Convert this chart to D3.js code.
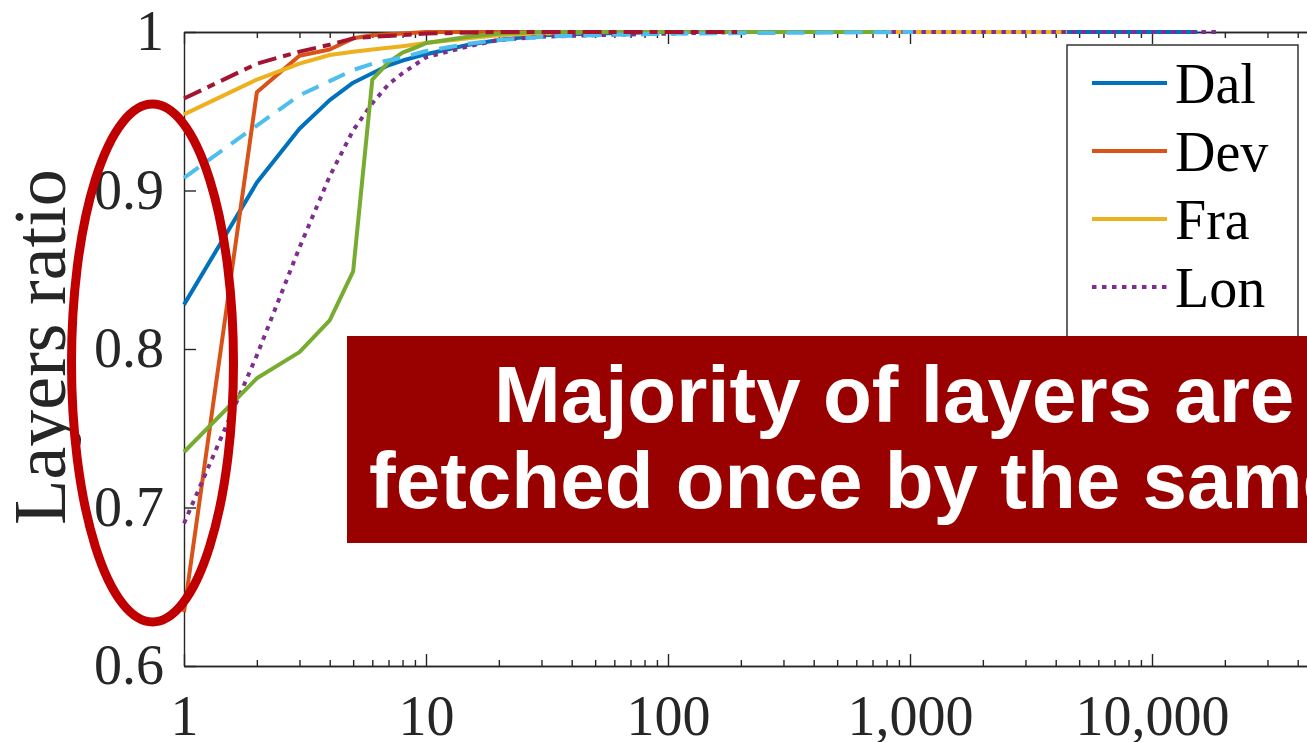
<!DOCTYPE html>
<html>
<head>
<meta charset="utf-8">
<script src="https://cdn.jsdelivr.net/npm/d3@7"></script>
<style>
  body { margin: 0; background: #fff; }
  svg { display: block; }
</style>
</head>
<body>
<div id="chart"></div>
<script>
// fetch-count CDF per site (x = times a layer is fetched by the same client)
const seriesNames = ['Dal', 'Dev', 'Fra', 'Lon', 'Pre', 'Sta', 'Syd'];

const dalCounts = [1, 2, 3, 4, 5, 6, 7, 8, 10, 15, 20, 30, 50, 100, 15400];
const dalRatio  = [0.828, 0.905, 0.939, 0.957, 0.968, 0.974, 0.979, 0.982, 0.986, 0.992, 0.995, 0.998, 0.999, 1, 1];

const devCounts = [1, 2, 3, 4, 5, 6, 8, 10, 150];
const devRatio  = [0.634, 0.962, 0.985, 0.989, 0.996, 0.998, 0.999, 1, 1];

const fraCounts = [1, 2, 3, 4, 5, 6, 7, 8, 10, 15, 20, 30, 50, 4450];
const fraRatio  = [0.948, 0.970, 0.980, 0.9855, 0.9876, 0.989, 0.990, 0.991, 0.993, 0.996, 0.998, 0.999, 1, 1];

const lonCounts = [1, 2, 3, 4, 5, 6, 7, 8, 10, 15, 20, 30, 50, 100, 200, 18700];
const lonRatio  = [0.690, 0.796, 0.864, 0.909, 0.938, 0.955, 0.967, 0.974, 0.984, 0.991, 0.995, 0.997, 0.998, 0.999, 1, 1];

const preCounts = [1, 2, 3, 4, 5, 6, 7, 8, 9, 10, 15, 20, 30, 770];
const preRatio  = [0.735, 0.7815, 0.798, 0.818, 0.849, 0.970, 0.981, 0.987, 0.990, 0.993, 0.997, 0.999, 1, 1];

const staCounts = [1, 2, 3, 4, 5, 6, 8, 10, 15, 20, 25, 30, 50, 100, 1030];
const staRatio  = [0.908, 0.941, 0.960, 0.969, 0.976, 0.980, 0.984, 0.988, 0.9926, 0.995, 0.9958, 0.997, 0.998, 0.999, 1];

const sydCounts = [1, 2, 3, 4, 5, 6, 8, 10, 20, 193];
const sydRatio  = [0.958, 0.980, 0.9876, 0.992, 0.996, 0.997, 0.998, 0.999, 1, 1];

const xTicks = [1, 10, 100, 1000, 10000, 100000];
const yTicks = [0.6, 0.7, 0.8, 0.9, 1];

const noteLines = ['Majority of layers are', 'fetched once by the same'];

const counts = [dalCounts, devCounts, fraCounts, lonCounts, preCounts, staCounts, sydCounts];
const ratios = [dalRatio, devRatio, fraRatio, lonRatio, preRatio, staRatio, sydRatio];
const series = seriesNames.map((name, i) => ({
  name,
  points: counts[i].map((c, j) => [c, ratios[i][j]])
}));

// MATLAB default line colours + styles
const colors = ['#0072BD', '#D95319', '#EDB120', '#7E2F8E', '#77AC30', '#4DBEEE', '#A2142F'];
const dashes = [null, null, null, '4.5,5.5', null, '18,11', '19,7,8,7'];

const svgW = 1307, svgH = 742;
const plotLeft = 184, plotTop = 32, plotBottom = 666;
const axisColor = '#262626';
const serif = '"Liberation Serif", "Times New Roman", serif';

const svg = d3.select('#chart')
  .append('svg')
  .attr('width', svgW)
  .attr('height', svgH);

const xScale = d3.scaleLog().domain([1, 100000]).range([plotLeft, 1394]);
const yScale = d3.scaleLinear().domain([0.6, 1]).range([plotBottom, plotTop]);

const minorTicks = [];
for (let d = 1; d < 100000; d *= 10) {
  for (let k = 2; k <= 9; k++) minorTicks.push(d * k);
}

// bottom axis
svg.append('g')
  .attr('transform', `translate(0, ${plotBottom})`)
  .call(d3.axisBottom(xScale).tickValues(xTicks).tickFormat(d3.format(',')).tickSizeInner(-12).tickSizeOuter(0).tickPadding(29))
  .call(g => g.selectAll('text').attr('font-family', serif).attr('font-size', 56).attr('fill', axisColor));
svg.append('g')
  .attr('transform', `translate(0, ${plotBottom})`)
  .call(d3.axisBottom(xScale).tickValues(minorTicks).tickFormat('').tickSizeInner(-6).tickSizeOuter(0));

// top axis (box)
svg.append('g')
  .attr('transform', `translate(0, ${plotTop})`)
  .call(d3.axisTop(xScale).tickValues(xTicks).tickFormat('').tickSizeInner(-12).tickSizeOuter(0));
svg.append('g')
  .attr('transform', `translate(0, ${plotTop})`)
  .call(d3.axisTop(xScale).tickValues(minorTicks).tickFormat('').tickSizeInner(-6).tickSizeOuter(0));

// left axis
svg.append('g')
  .attr('transform', `translate(${plotLeft}, 0)`)
  .call(d3.axisLeft(yScale).tickValues(yTicks).tickFormat(d => d === 1 ? '1' : d3.format('.1f')(d)).tickSizeInner(-12).tickSizeOuter(0).tickPadding(20))
  .call(g => g.selectAll('text').attr('font-family', serif).attr('font-size', 56).attr('fill', axisColor));

svg.selectAll('.domain, .tick line')
  .attr('stroke', axisColor)
  .attr('stroke-width', 1.4);

svg.append('text')
  .attr('transform', 'translate(65, 347) rotate(-90)')
  .attr('text-anchor', 'middle')
  .attr('font-family', serif)
  .attr('font-size', 74)
  .attr('fill', axisColor)
  .text('Layers ratio');

// lines
const line = d3.line()
  .x(d => xScale(d[0]))
  .y(d => yScale(d[1]));

svg.selectAll('.series')
  .data(series)
  .enter()
  .append('path')
  .attr('class', 'series')
  .attr('d', d => line(d.points))
  .attr('fill', 'none')
  .attr('stroke', (d, i) => colors[i])
  .attr('stroke-width', 4)
  .attr('stroke-linejoin', 'round')
  .attr('stroke-dasharray', (d, i) => dashes[i]);

// legend
const legend = svg.append('g');
legend.append('rect')
  .attr('x', 1067)
  .attr('y', 45)
  .attr('width', 231)
  .attr('height', 490)
  .attr('fill', '#fff')
  .attr('stroke', axisColor)
  .attr('stroke-width', 1.4);

const entries = legend.selectAll('.entry')
  .data(series)
  .enter()
  .append('g')
  .attr('transform', (d, i) => `translate(0, ${83 + i * 68})`);
entries.append('line')
  .attr('x1', 1092)
  .attr('x2', 1167)
  .attr('stroke', (d, i) => colors[i])
  .attr('stroke-width', 4)
  .attr('stroke-dasharray', (d, i) => dashes[i]);
entries.append('text')
  .attr('x', 1175)
  .attr('y', 20)
  .attr('font-family', serif)
  .attr('font-size', 56)
  .attr('fill', '#000')
  .text(d => d.name);

// annotation
svg.append('rect')
  .attr('x', 347)
  .attr('y', 336)
  .attr('width', 1000)
  .attr('height', 207)
  .attr('fill', '#990000');

svg.selectAll('.note')
  .data(noteLines)
  .enter()
  .append('text')
  .attr('x', (d, i) => i === 0 ? 494 : 369)
  .attr('y', (d, i) => i === 0 ? 422 : 508)
  .attr('font-family', '"Liberation Sans", Arial, sans-serif')
  .attr('font-weight', 'bold')
  .attr('font-size', 80)
  .attr('fill', '#fff')
  .text(d => d);

svg.append('ellipse')
  .attr('cx', 152.5)
  .attr('cy', 363)
  .attr('rx', 81)
  .attr('ry', 259)
  .attr('fill', 'none')
  .attr('stroke', '#C00000')
  .attr('stroke-width', 9);
</script>
</body>
</html>
